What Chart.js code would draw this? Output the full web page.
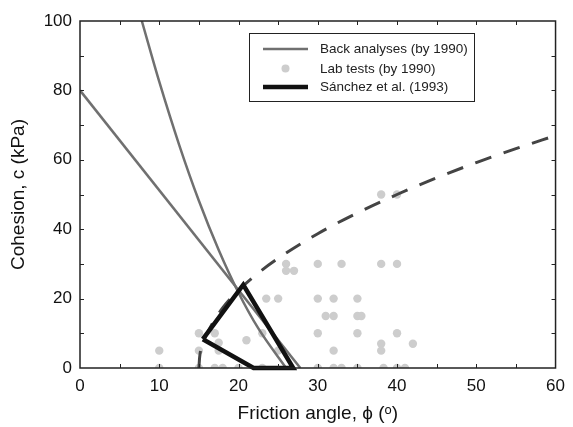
<!DOCTYPE html>
<html>
<head>
<meta charset="utf-8">
<script src="https://cdn.jsdelivr.net/npm/chart.js@4"></script>
<style>
  html, body { margin:0; padding:0; background:#fff; }
  #wrap { width:573px; height:427px; position:relative; }
</style>
</head>
<body>
<div id="wrap"><canvas id="chart" width="573" height="427"></canvas></div>
<script>
// ── Data ──
const xTicks = [0, 10, 20, 30, 40, 50, 60];
const yTicks = [0, 20, 40, 60, 80, 100];

// lab tests (phi, c)
const labPhi = [38, 40, 26, 30, 33, 38, 40, 26, 27, 23.5, 25, 30, 32, 35,
                31, 32, 35, 35.5, 15, 17, 23, 30, 35, 40, 21, 17.5, 38, 42,
                10, 15, 17.5, 25, 32, 38, 10, 15, 17, 18, 20, 23, 30, 32, 33, 35, 38.3, 40, 41];
const labC   = [50, 50, 30, 30, 30, 30, 30, 28, 28, 20, 20, 20, 20, 20,
                15, 15, 15, 15, 10, 10, 10, 10, 10, 10, 8, 7.3, 7, 7,
                5, 5, 5, 5, 5, 5, 0, 0, 0, 0, 0, 0, 0, 0, 0, 0, 0, 0, 0];

// back analyses
const backLinePhi  = [0, 27.8];
const backLineC    = [80, 0];
const backCurvePhi = [7.8, 10, 12.5, 15, 17.5, 20, 22.5, 26];
const backCurveC   = [100, 82.5, 64.4, 48.2, 34, 21.7, 11.4, 0];

// dashed envelope
const envPhi = [15, 15.1, 15.5, 16.5, 18, 20, 22.5, 25, 30, 35, 40, 45, 50, 55, 60];
const envC   = [0, 3.2, 7, 12, 17.3, 22.4, 27.4, 31.6, 38.7, 44.7, 50, 54.8, 59.2, 63.2, 67];

// Sánchez et al. (1993)
const sanPhi = [15.5, 20.6, 26.9, 21.9, 15.5];
const sanC   = [8.3, 24, 0, 0, 8.3];

const legendLabels = ['Back analyses (by 1990)', 'Lab tests (by 1990)', 'Sánchez et al. (1993)'];

const FONT = '"Liberation Sans", Arial, sans-serif';
const GREY_LINE = '#707070', DOT = '#cdcdcd';

function pts(xs, ys) { return xs.map((x, i) => ({x: x, y: ys[i]})); }

// inward ticks + full box
const boxPlugin = {
  id: 'box',
  afterDatasetsDraw(chart) {
    const {ctx, chartArea: a, scales: {x, y}} = chart;
    ctx.save();
    ctx.strokeStyle = '#222'; ctx.lineWidth = 1.5;
    ctx.strokeRect(a.left, a.top, a.right - a.left, a.bottom - a.top);
    ctx.lineWidth = 1;
    ctx.beginPath();
    for (let v = 5; v < 60; v += 5) {
      const px = Math.round(x.getPixelForValue(v)) + 0.5;
      ctx.moveTo(px, a.bottom); ctx.lineTo(px, a.bottom - 4);
      ctx.moveTo(px, a.top); ctx.lineTo(px, a.top + 4);
    }
    for (let v = 10; v < 100; v += 10) {
      const py = Math.round(y.getPixelForValue(v)) + 0.5;
      ctx.moveTo(a.left, py); ctx.lineTo(a.left + 4, py);
      ctx.moveTo(a.right, py); ctx.lineTo(a.right - 4, py);
    }
    ctx.stroke();
    ctx.restore();
  }
};

// legend inside the plot
const legendPlugin = {
  id: 'boxLegend',
  afterDraw(chart) {
    const ctx = chart.ctx;
    const L = 249, T = 33, R = 474, B = 101;
    const rows = [49, 68.5, 87];
    ctx.save();
    ctx.fillStyle = '#fff';
    ctx.fillRect(L, T, R - L, B - T);
    ctx.strokeStyle = '#222'; ctx.lineWidth = 1;
    ctx.strokeRect(L + 0.5, T + 0.5, R - L, B - T);

    ctx.lineCap = 'butt';
    ctx.strokeStyle = GREY_LINE; ctx.lineWidth = 2.5;
    ctx.beginPath(); ctx.moveTo(263, rows[0]); ctx.lineTo(308, rows[0]); ctx.stroke();

    ctx.fillStyle = DOT;
    ctx.beginPath(); ctx.arc(285.5, rows[1], 4, 0, Math.PI * 2); ctx.fill();

    ctx.strokeStyle = '#111'; ctx.lineWidth = 4.5;
    ctx.beginPath(); ctx.moveTo(263, rows[2]); ctx.lineTo(308, rows[2]); ctx.stroke();

    ctx.fillStyle = '#222';
    ctx.font = '13.5px ' + FONT;
    ctx.textBaseline = 'middle';
    legendLabels.forEach((t, i) => ctx.fillText(t, 320, rows[i] + 0.5));
    ctx.restore();
  }
};

new Chart(document.getElementById('chart').getContext('2d'), {
  type: 'scatter',
  data: {
    datasets: [
      { label: legendLabels[2], data: pts(sanPhi, sanC), showLine: true, order: 1,
        borderColor: '#111', borderWidth: 4.5, pointRadius: 0, tension: 0,
        borderJoinStyle: 'miter', clip: false },
      { label: 'envelope', data: pts(envPhi, envC), showLine: true, order: 2,
        borderColor: '#444', borderWidth: 3, borderDash: [17, 13], pointRadius: 0,
        cubicInterpolationMode: 'monotone' },
      { label: legendLabels[0], data: pts(backLinePhi, backLineC), showLine: true, order: 3,
        borderColor: GREY_LINE, borderWidth: 2.5, pointRadius: 0 },
      { label: legendLabels[0] + ' b', data: pts(backCurvePhi, backCurveC), showLine: true, order: 3,
        borderColor: GREY_LINE, borderWidth: 2.5, pointRadius: 0,
        cubicInterpolationMode: 'monotone' },
      { label: legendLabels[1], data: pts(labPhi, labC), showLine: false, order: 4,
        backgroundColor: DOT, borderWidth: 0, pointRadius: 4.2 }
    ]
  },
  options: {
    responsive: false, animation: false,
    layout: { padding: { top: 21, right: 11, left: 0, bottom: 0 } },
    plugins: { legend: { display: false }, tooltip: { enabled: false } },
    scales: {
      x: {
        type: 'linear', min: 0, max: 60,
        afterBuildTicks: (s) => { s.ticks = xTicks.map(v => ({value: v})); },
        afterFit: (s) => { s.height = 59; },
        grid: { display: false, drawTicks: false },
        border: { display: false },
        ticks: { color: '#111', padding: 8, font: { family: FONT, size: 17 } },
        title: { display: true, text: 'Friction angle, ϕ (ᵒ)', color: '#111',
                 padding: { top: 0, bottom: 2 }, font: { family: FONT, size: 19 } }
      },
      y: {
        type: 'linear', min: 0, max: 100,
        afterBuildTicks: (s) => { s.ticks = yTicks.map(v => ({value: v})); },
        afterFit: (s) => { s.width = 80; },
        grid: { display: false, drawTicks: false },
        border: { display: false },
        ticks: { color: '#111', padding: 8, font: { family: FONT, size: 17 } },
        title: { display: true, text: 'Cohesion, c (kPa)', color: '#111',
                 padding: { top: 7, bottom: 0 }, font: { family: FONT, size: 19 } }
      }
    }
  },
  plugins: [boxPlugin, legendPlugin]
});
</script>
</body>
</html>
